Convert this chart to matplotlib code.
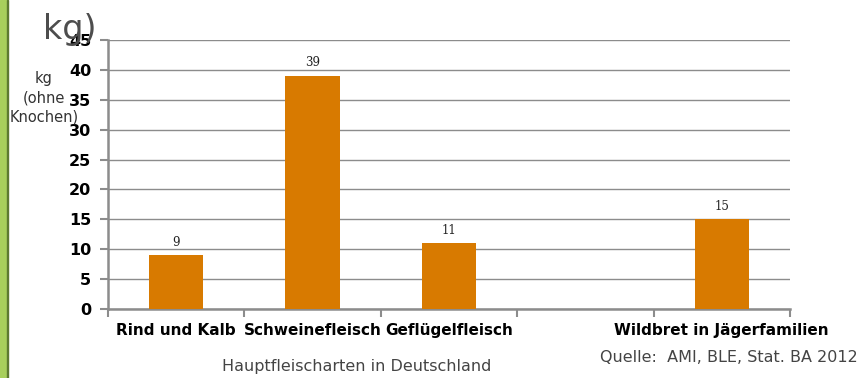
import matplotlib.pyplot as plt
from matplotlib.patches import Rectangle

# Pro-Kopf-Verzehr nach Fleischart (kg ohne Knochen)
categories = ["Rind und Kalb", "Schweinefleisch", "Geflügelfleisch", "", "Wildbret in Jägerfamilien"]
values = [9, 39, 11, None, 15]
yticks = [0, 5, 10, 15, 20, 25, 30, 35, 40, 45]

bar_color = "#d87a00"
grid_color = "#8c8c8c"

fig = plt.figure(figsize=(8.62, 3.78), dpi=100)
ax = fig.add_axes([108 / 862, 69 / 378, 682 / 862, 269 / 378])

xs = [i for i, v in enumerate(values) if v is not None]
hs = [v for v in values if v is not None]
bars = ax.bar(xs, hs, width=0.4, color=bar_color, zorder=3)
for x, h in zip(xs, hs):
    ax.text(x, h + 1.1, str(h), ha="center", va="bottom", fontsize=8.5,
            family="DejaVu Serif", color="#222222")

ax.set_xlim(-0.5, len(categories) - 0.5)
ax.set_ylim(0, 45)
ax.set_yticks(yticks)
ax.set_yticklabels([str(t) for t in yticks], fontsize=11.5, fontweight="bold")
ax.yaxis.grid(True, color=grid_color, linewidth=1.0, zorder=0)
ax.set_axisbelow(True)

# category labels centred, tick marks at the category boundaries
ax.set_xticks(range(len(categories)))
ax.set_xticklabels(categories, fontsize=11, fontweight="bold")
ax.tick_params(axis="x", length=0, pad=10)
ax.set_xticks([i - 0.5 for i in range(len(categories) + 1)], minor=True)
ax.tick_params(axis="x", which="minor", length=6, width=1.5, color=grid_color, direction="out")
ax.tick_params(axis="y", length=6, width=1.5, color=grid_color, pad=6)

for side in ["top", "right"]:
    ax.spines[side].set_visible(False)
for side in ["left", "bottom"]:
    ax.spines[side].set_color(grid_color)
    ax.spines[side].set_linewidth(1.8)

# unit text on the left
fig.text(70 / 862, 1 - 30 / 378, "kg)", fontsize=24, color="#4d4d4d",
         ha="center", va="center")
fig.text(44 / 862, 1 - 98 / 378, "kg\n(ohne\nKnochen)", fontsize=10.5,
         color="#333333", ha="center", va="center", linespacing=1.35)

fig.text(357 / 862, 1 - 367 / 378, "Hauptfleischarten in Deutschland",
         fontsize=11.5, color="#444444", ha="center", va="center")
fig.text(858 / 862, 1 - 357 / 378, "Quelle:  AMI, BLE, Stat. BA 2012",
         fontsize=11.5, color="#444444", ha="right", va="center")

# green border strip at the left edge
fig.patches.append(Rectangle((0, 0), 7 / 862, 1, transform=fig.transFigure,
                             color="#a8cf5c", zorder=0))
fig.patches.append(Rectangle((7 / 862, 0), 1.5 / 862, 1, transform=fig.transFigure,
                             color="#5d7a30", zorder=0))

fig.savefig("out.png", dpi=100)
